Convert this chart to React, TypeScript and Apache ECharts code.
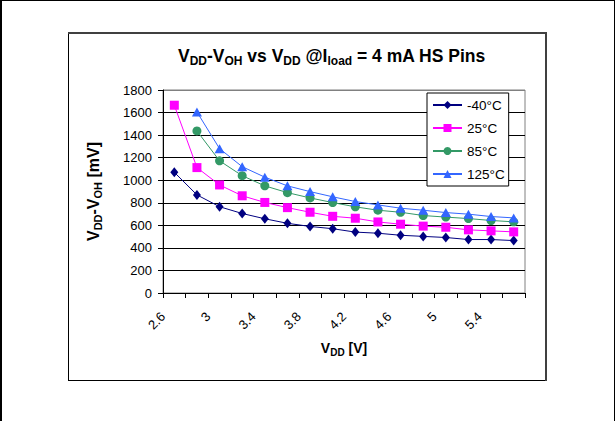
import React, { useEffect, useRef } from "react";
import * as echarts from "echarts";

// Supply voltage categories (V)
const categories = ["2.6", "2.8", "3", "3.2", "3.4", "3.6", "3.8", "4", "4.2", "4.4", "4.6", "4.8", "5", "5.2", "5.4", "5.6"];

// VDD - VOH drop (mV) per temperature
const tempM40 = [1070, 870, 765, 705, 658, 618, 590, 570, 540, 530, 512, 502, 492, 474, 474, 465];
const temp25 = [1665, 1112, 958, 862, 803, 757, 716, 680, 663, 630, 610, 593, 583, 560, 551, 542];
const temp85 = [null, 1437, 1172, 1040, 950, 890, 843, 802, 764, 734, 716, 687, 673, 660, 643, 631];
const temp125 = [null, 1605, 1280, 1120, 1027, 950, 899, 853, 811, 781, 752, 734, 713, 699, 678, 666];

const seriesNames = ["-40°C", "25°C", "85°C", "125°C"];

const FONT = "'Liberation Sans', Arial, sans-serif";

export default function App() {
  const ref = useRef<HTMLDivElement>(null);

  useEffect(() => {
    if (!ref.current) return;
    const chart = echarts.init(ref.current, undefined, { renderer: "svg" });

    // bold text with lowered subscripts
    const boldRich = (size: number, subSize: number) => ({
      b: {
        fontFamily: FONT,
        fontWeight: "bold",
        fontSize: size,
        lineHeight: size + 2,
        padding: [0, 0, 1, 0],
        verticalAlign: "top",
        color: "#000",
      },
      s: {
        fontFamily: FONT,
        fontWeight: "bold",
        fontSize: subSize,
        lineHeight: subSize + 1,
        verticalAlign: "bottom",
        color: "#000",
      },
    });

    const makeSeries = (name: string, data: (number | null)[], color: string, symbol: string, size: number | number[]) => ({
      name,
      type: "line",
      data,
      symbol,
      symbolSize: size,
      showAllSymbol: true,
      connectNulls: false,
      itemStyle: { color },
      lineStyle: { color, width: 1 },
      emphasis: { disabled: true },
    });

    const gridLineColors = ["#000", "#000", "#000", "#000", "#000", "#000", "#000", "#000", "#000", "#808080"];

    chart.setOption({
      animation: false,
      backgroundColor: "#fff",
      textStyle: { fontFamily: FONT },
      title: {
        text: "{b|V}{s|DD}{b|-V}{s|OH}{b| vs V}{s|DD}{b| @I}{s|load}{b| = 4 mA HS Pins}",
        left: 178,
        top: 47,
        padding: 0,
        textStyle: { rich: boldRich(17.5, 12) },
      },
      legend: {
        orient: "vertical",
        left: 427,
        top: 93,
        width: 80,
        padding: [5, 4, 5, 5],
        itemWidth: 29,
        itemHeight: 10,
        itemGap: 9,
        itemTextGap: 4,
        borderColor: "#000",
        borderWidth: 1,
        backgroundColor: "#fff",
        data: seriesNames,
        textStyle: { fontFamily: FONT, fontSize: 13.5, lineHeight: 14, color: "#000" },
      },
      grid: {
        left: 163,
        top: 90,
        right: 90,
        bottom: 128,
        show: true,
        borderColor: "#808080",
        borderWidth: 1,
        backgroundColor: "transparent",
      },
      xAxis: {
        type: "category",
        data: categories,
        boundaryGap: true,
        name: "{b|V}{s|DD}{b| [V]}",
        nameLocation: "middle",
        nameGap: 48,
        nameTextStyle: { rich: boldRich(14, 10) },
        axisLine: { lineStyle: { color: "#000", width: 1 } },
        axisTick: { show: true, interval: 0, length: 5, lineStyle: { color: "#000" } },
        axisLabel: {
          interval: 1,
          rotate: 45,
          margin: 10,
          padding: [0, 16, 0, 0],
          fontFamily: FONT,
          fontSize: 13,
          color: "#000",
        },
        splitLine: { show: false },
      },
      yAxis: {
        type: "value",
        min: 0,
        max: 1800,
        interval: 200,
        name: "{b|V}{s|DD}{b|-V}{s|OH}{b| [mV]}",
        nameLocation: "middle",
        nameGap: 60,
        nameRotate: 90,
        nameTextStyle: { rich: boldRich(16, 11) },
        axisLine: { show: true, lineStyle: { color: "#000", width: 1 } },
        axisTick: { show: true, length: 5, lineStyle: { color: "#000" } },
        axisLabel: {
          margin: 11,
          fontFamily: FONT,
          fontSize: 13,
          color: "#000",
          formatter: (v: number) => String(v),
        },
        splitLine: { show: true, lineStyle: { color: gridLineColors, width: 1 } },
      },
      series: [
        makeSeries(seriesNames[0], tempM40, "#000080", "diamond", [8, 10]),
        makeSeries(seriesNames[1], temp25, "#FF00FF", "rect", 9),
        makeSeries(seriesNames[2], temp85, "#339966", "circle", 9),
        makeSeries(seriesNames[3], temp125, "#3366FF", "triangle", [10, 9]),
      ],
      graphic: [
        // page frame
        { type: "line", shape: { x1: 0, y1: 0.5, x2: 615, y2: 0.5 }, style: { stroke: "#000", lineWidth: 1 } },
        { type: "rect", shape: { x: 0, y: 0, width: 2, height: 421 }, style: { fill: "#000" } },
        { type: "line", shape: { x1: 614.5, y1: 0, x2: 614.5, y2: 421 }, style: { stroke: "#000", lineWidth: 1 } },
        // chart area frame
        { type: "line", shape: { x1: 68.5, y1: 32, x2: 68.5, y2: 381 }, style: { stroke: "#000", lineWidth: 1 } },
        { type: "line", shape: { x1: 68, y1: 380.5, x2: 546, y2: 380.5 }, style: { stroke: "#000", lineWidth: 1 } },
        { type: "line", shape: { x1: 68, y1: 33, x2: 547, y2: 33 }, style: { stroke: "#404040", lineWidth: 2 } },
        { type: "line", shape: { x1: 546, y1: 32, x2: 546, y2: 381 }, style: { stroke: "#404040", lineWidth: 2 } },
      ],
    });

    return () => chart.dispose();
  }, []);

  return (
    <div
      ref={ref}
      style={{ position: "absolute", left: 0, top: 0, width: 615, height: 421, background: "#fff" }}
    />
  );
}
